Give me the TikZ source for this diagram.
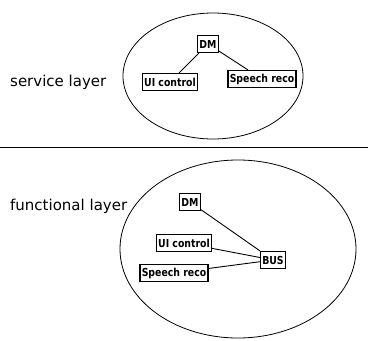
\documentclass[tikz,border=0pt]{standalone}
\usepackage{fontspec}
\setmainfont{DejaVu Sans}
\newfontfamily\boxfont{DejaVu Sans}[FakeStretch=0.85]
\begin{document}
\begin{tikzpicture}[x=1pt,y=-1pt,
  comp/.style={draw,line width=1.2pt,inner xsep=1.8pt,inner ysep=2.2pt,minimum height=17pt,
    font=\boxfont\fontsize{11}{12}\selectfont\bfseries},
  layerlabel/.style={anchor=west,inner sep=0pt,font=\fontsize{15}{17}\selectfont},
  link/.style={line width=0.9pt},
  region/.style={draw,line width=0.8pt}]
\useasboundingbox (0,0) rectangle (368,341);

% service layer
\draw[region] (213,76) ellipse [x radius=90, y radius=63];
\node[layerlabel] (svc) at (10,82) {service layer};
\node[comp] (sdm) at (208,44) {DM};
\node[comp] (sui) at (170,82) {UI control};
\node[comp] (ssr) at (262,79) {Speech reco};
\draw[link] (sdm) -- (sui);
\draw[link] (sdm) -- (ssr);

% separator
\coordinate (sepL) at (0,147);
\coordinate (sepR) at (368,147);
\draw[line width=1pt] (sepL) -- (sepR);

% functional layer
\draw[region] (238,249) ellipse [x radius=118, y radius=89];
\node[layerlabel] (fun) at (10,206) {functional layer};
\node[comp] (fdm) at (190,202) {DM};
\node[comp] (fui) at (184,243) {UI control};
\node[comp] (fsr) at (174,273) {Speech reco};
\node[comp] (bus) at (273,260) {BUS};
\draw[link] (fdm) -- (bus);
\draw[link] (fui) -- (bus);
\draw[link] (fsr) -- (bus);
\end{tikzpicture}
\end{document}
